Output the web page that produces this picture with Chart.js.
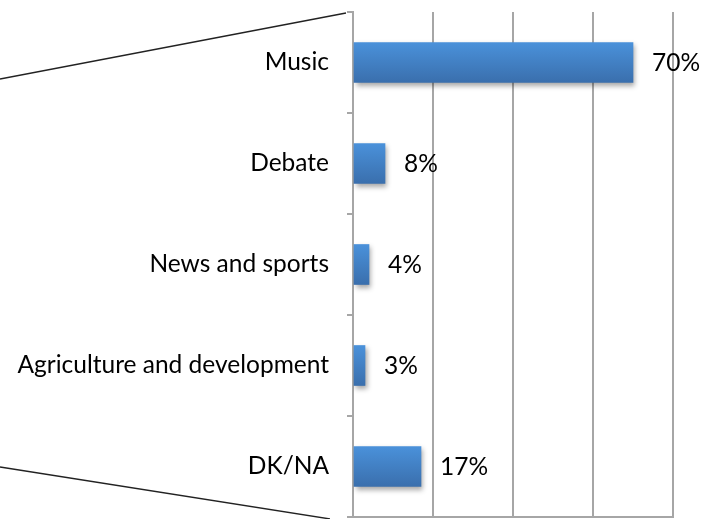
<!DOCTYPE html>
<html>
<head>
<meta charset="utf-8">
<script src="https://cdn.jsdelivr.net/npm/chart.js@4"></script>
<style>
  html, body { margin: 0; padding: 0; background: #fff; }
  #wrap { width: 701px; height: 519px; position: relative; }
</style>
</head>
<body>
<div id="wrap"><canvas id="chart"></canvas></div>
<script>
let categories = ["Music", "Debate", "News and sports", "Agriculture and development", "DK/NA"];
let shares = [70, 8, 4, 3, 17];
let shareLabels = ["70%", "8%", "4%", "3%", "17%"];
let xTicks = [0, 20, 40, 60, 80];

let gridGrey = "#a6a6a6";
let labelFont = { family: "Lato, 'Open Sans', sans-serif", size: 24.5 };

// connector lines on the left (pie-of-bar style)
let connectorLines = {
  id: "connectorLines",
  beforeDraw(chart) {
    let ctx = chart.ctx;
    let a = chart.chartArea;
    ctx.save();
    ctx.strokeStyle = "#222";
    ctx.lineWidth = 1.3;
    ctx.beginPath();
    ctx.moveTo(0, 79);
    ctx.lineTo(a.left - 7, a.top + 1);
    ctx.moveTo(0, 467);
    ctx.lineTo(330, 519);
    ctx.stroke();
    ctx.restore();
  },
};

// gradient fill + soft shadow like the office chart
let barStyle = {
  id: "barStyle",
  beforeDatasetsDraw(chart) {
    let ctx = chart.ctx;
    chart.getDatasetMeta(0).data.forEach((bar) => {
      let h = bar.height / 2;
      let g = ctx.createLinearGradient(0, bar.y - h, 0, bar.y + h);
      g.addColorStop(0, "#4a91da");
      g.addColorStop(1, "#3a6fad");
      bar.options = Object.assign({}, bar.options, { backgroundColor: g });
    });
    ctx.save();
    ctx.shadowColor = "rgba(0,0,0,0.35)";
    ctx.shadowBlur = 5;
    ctx.shadowOffsetX = 2;
    ctx.shadowOffsetY = 3;
  },
  afterDatasetsDraw(chart) {
    chart.ctx.restore();
  },
};

let valueLabels = {
  id: "valueLabels",
  afterDatasetsDraw(chart) {
    let ctx = chart.ctx;
    let meta = chart.getDatasetMeta(0);
    ctx.save();
    ctx.fillStyle = "#000";
    ctx.font = labelFont.size + "px " + labelFont.family;
    ctx.textAlign = "left";
    ctx.textBaseline = "middle";
    meta.data.forEach((bar, i) => {
      ctx.fillText(shareLabels[i], bar.x + 19, bar.y + 1);
    });
    ctx.restore();
  },
};

let ctx = document.querySelector("#chart");
let barChart = new Chart(ctx, {
  type: "bar",
  data: {
    labels: categories,
    datasets: [
      {
        data: shares,
        barThickness: 40,
        backgroundColor: () => "#4483c8",
        borderWidth: 0,
      },
    ],
  },
  options: {
    indexAxis: "y",
    responsive: true,
    maintainAspectRatio: false,
    animation: false,
    layout: { padding: { top: 12, right: 28, bottom: 0, left: 0 } },
    plugins: { legend: { display: false }, tooltip: { enabled: false } },
    scales: {
      x: {
        min: 0,
        max: 80,
        afterBuildTicks: (s) => { s.ticks = xTicks.map((v) => ({ value: v })); },
        afterFit: (s) => { s.height = 2; s.paddingLeft = 0; s.paddingRight = 0; },
        ticks: { display: false },
        grid: { color: gridGrey, lineWidth: 2, drawTicks: false },
        border: { display: true, color: gridGrey, width: 2 },
      },
      y: {
        afterFit: (s) => { s.width = 353; s.paddingTop = 0; s.paddingBottom = 0; },
        ticks: { color: "#000", font: labelFont, padding: 18 },
        grid: { drawOnChartArea: false, drawTicks: true, tickLength: 6, color: gridGrey, lineWidth: 2 },
        border: { display: true, color: gridGrey, width: 2 },
      },
    },
  },
  plugins: [connectorLines, barStyle, valueLabels],
});
</script>
</body>
</html>
